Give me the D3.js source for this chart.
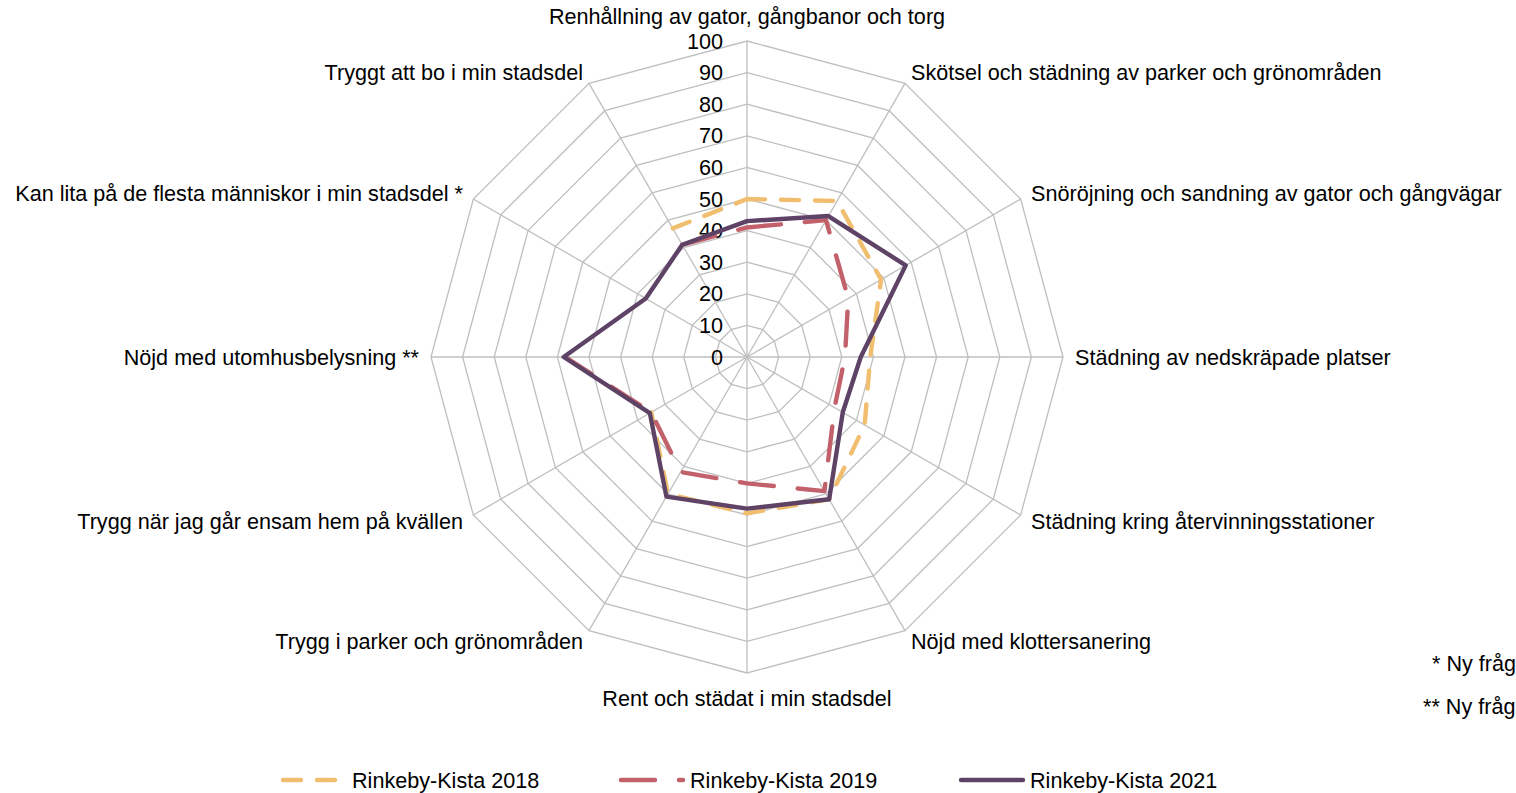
<!DOCTYPE html>
<html>
<head>
<meta charset="utf-8">
<script src="https://cdn.jsdelivr.net/npm/d3@7"></script>
<style>
  html, body { margin: 0; padding: 0; background: #fff; overflow: hidden; }
  svg { display: block; }
  text { font-family: "Liberation Sans", Arial, sans-serif; fill: #000; }
</style>
</head>
<body>
<svg id="chart" width="1516" height="793"></svg>
<script>
// ---- data ----
const categories = [
  "Renhållning av gator, gångbanor och torg",
  "Skötsel och städning av parker och grönområden",
  "Snöröjning och sandning av gator och gångvägar",
  "Städning av nedskräpade platser",
  "Städning kring återvinningsstationer",
  "Nöjd med klottersanering",
  "Rent och städat i min stadsdel",
  "Trygg i parker och grönområden",
  "Trygg när jag går ensam hem på kvällen",
  "Nöjd med utomhusbelysning **",
  "Kan lita på de flesta människor i min stadsdel *",
  "Tryggt att bo i min stadsdel"
];
const seriesNames = ["Rinkeby-Kista 2018", "Rinkeby-Kista 2019", "Rinkeby-Kista 2021"];
const values2018 = [50, 57, 49, 39, 43, 52, 49.5, 50, 35, null, null, 47];
const values2019 = [41, 50, 37, 31, 32, 49, 40, 42, 35, 57.5, null, 41];
const values2021 = [43, 51.5, 58, 36, 35, 52, 48, 51, 35.5, 58, 37, 41];
const tickValues = [0, 10, 20, 30, 40, 50, 60, 70, 80, 90, 100];
const footnotes = ["* Ny fråga", "** Ny fråga"];

// ---- layout ----
const svg = d3.select("#chart");
const cx = 747, cy = 357, R = 316;
const fontSize = 21.6;
const r = d3.scaleLinear().domain([0, 100]).range([0, R]);
const angle = d3.scaleLinear().domain([0, categories.length]).range([0, 2 * Math.PI]);
const pt = (i, v) => [cx + r(v) * Math.sin(angle(i)), cy - r(v) * Math.cos(angle(i))];

const g = svg.append("g");

// grid rings
const gridColor = "#bfbfbf";
tickValues.filter(t => t > 0).forEach(t => {
  const poly = categories.map((c, i) => pt(i, t));
  g.append("path")
    .attr("d", d3.line().curve(d3.curveLinearClosed)(poly))
    .attr("fill", "none").attr("stroke", gridColor).attr("stroke-width", 1.3);
});
// spokes
categories.forEach((c, i) => {
  const [x, y] = pt(i, 100);
  g.append("line").attr("x1", cx).attr("y1", cy).attr("x2", x).attr("y2", y)
    .attr("stroke", gridColor).attr("stroke-width", 1.3);
});

// tick labels
tickValues.forEach(t => {
  g.append("text").attr("x", cx - 24).attr("y", cy - r(t))
    .attr("text-anchor", "end").attr("dominant-baseline", "central")
    .style("font-size", fontSize + "px").text(t);
});

// category labels
categories.forEach((c, i) => {
  const a = angle(i);
  const s = Math.sin(a), co = Math.cos(a);
  let anchor = "middle", pad = 12;
  if (Math.abs(s) < 1e-6) { pad = 25; }
  else anchor = s > 0 ? "start" : "end";
  const x = cx + (R + pad) * s;
  const y = cy - (R + pad) * co;
  g.append("text").attr("x", x).attr("y", y)
    .attr("text-anchor", anchor).attr("dominant-baseline", "central")
    .style("font-size", fontSize + "px").text(c);
});

// series
const styles = [
  { color: "#F0BE6E", dash: "18,16" },
  { color: "#C3616B", dash: "34,24" },
  { color: "#5E4366", dash: null }
];
const allSeries = [values2018, values2019, values2021];
allSeries.forEach((vals, si) => {
  const st = styles[si];
  let d;
  if (vals.every(v => v != null)) {
    d = d3.line().curve(d3.curveLinearClosed)(vals.map((v, i) => pt(i, v)));
  } else {
    const idx = d3.range(vals.length + 1).map(i => i % vals.length);
    d = d3.line()
      .defined(i => vals[i] != null)
      .x(i => pt(i, vals[i])[0]).y(i => pt(i, vals[i])[1])(idx);
  }
  g.append("path").attr("d", d).attr("fill", "none")
    .attr("stroke", st.color).attr("stroke-width", 4.4)
    .attr("stroke-linejoin", "round").attr("stroke-linecap", "round")
    .attr("stroke-dasharray", st.dash);
});

// legend
const legendY = 780;
const legendX = [283, 621, 961];
const legendLen = [56, 62, 62];
const legendTextX = [352, 690, 1030];
seriesNames.forEach((name, si) => {
  const st = styles[si];
  const x0 = legendX[si];
  g.append("line").attr("x1", x0).attr("x2", x0 + legendLen[si])
    .attr("y1", legendY).attr("y2", legendY)
    .attr("stroke", st.color).attr("stroke-width", 4.4)
    .attr("stroke-linecap", "round").attr("stroke-dasharray", st.dash);
  g.append("text").attr("x", legendTextX[si]).attr("y", legendY)
    .attr("dominant-baseline", "central").style("font-size", fontSize + "px").text(name);
});

// footnotes (cut off at the right edge, as in the original)
footnotes.forEach((f, i) => {
  g.append("text").attr("x", i === 0 ? 1432 : 1423).attr("y", 663 + i * 43)
    .attr("dominant-baseline", "central").style("font-size", fontSize + "px").text(f);
});
</script>
</body>
</html>
